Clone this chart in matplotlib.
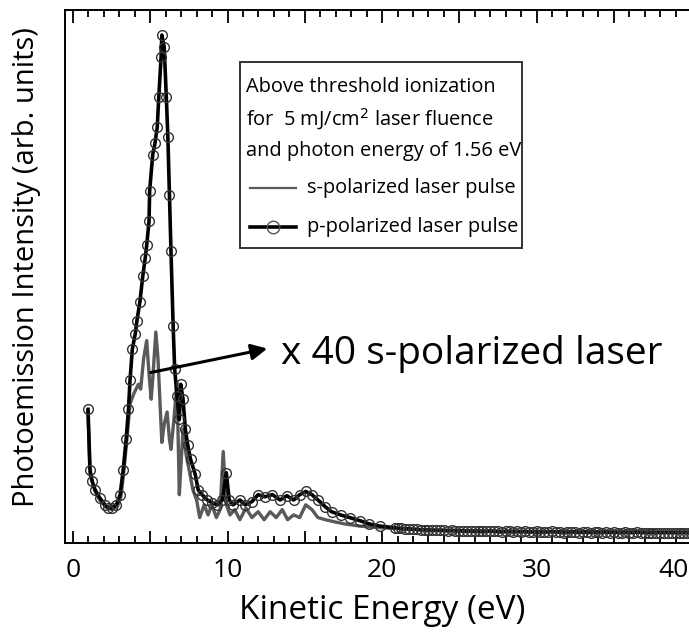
import matplotlib
matplotlib.use("Agg")
import matplotlib.pyplot as plt
import matplotlib.transforms as mtransforms
import numpy as np
from matplotlib.ticker import MultipleLocator, FuncFormatter
from matplotlib.lines import Line2D
from matplotlib.patches import Rectangle

plt.rcParams['font.family'] = ['Open Sans', 'DejaVu Sans']

# p-polarized laser pulse (black, open circles)
p_energy = [0.97, 1.10, 1.24, 1.43, 1.73, 2.07, 2.27, 2.51, 2.81, 3.05, 3.25, 3.44, 3.59,
            3.69, 3.84, 4.03, 4.13, 4.33, 4.52, 4.67, 4.77, 4.92, 4.96, 5.16, 5.31, 5.45,
            5.55, 5.70, 5.75, 5.90, 6.04, 6.14, 6.24, 6.34, 6.48, 6.58, 6.73, 6.88, 6.97,
            7.12, 7.27, 7.42, 7.61, 7.91, 8.10, 8.35, 8.69, 8.98, 9.33, 9.67, 9.92, 10.11,
            10.36, 10.80, 11.14, 11.58, 11.98, 12.42, 12.91, 13.40, 13.84, 14.28, 14.67,
            15.06, 15.46, 15.85, 16.34, 16.73, 17.32, 17.91, 18.59, 19.18, 19.87, 20.85]
p_signal = [24.5, 13.2, 11.0, 9.4, 7.9, 6.6, 6.0, 6.0, 6.6, 8.5, 13.2, 18.9, 24.5, 30.0,
            35.8, 38.7, 41.0, 44.7, 49.6, 52.8, 55.3, 59.8, 65.5, 72.3, 74.5, 77.4, 83.0,
            90.6, 94.7, 92.5, 83.0, 75.5, 64.7, 54.2, 40.2, 32.0, 27.0, 22.6, 29.2, 26.4,
            20.8, 17.9, 15.1, 12.3, 9.4, 8.5, 7.5, 7.0, 6.6, 7.5, 12.6, 7.5, 6.6, 7.5, 6.6,
            7.2, 8.5, 8.1, 8.5, 7.5, 8.3, 7.5, 8.5, 9.1, 8.5, 7.5, 6.2, 5.3, 4.7, 4.2, 3.6,
            3.0, 2.6, 2.3]
# high-energy tail of the p-polarized spectrum, sampled every 0.25 eV from 21 eV
tail_signal = [2.2, 2.2, 2.1, 2.1, 2.0, 2.0, 1.9, 1.9, 1.9, 1.8, 1.8, 1.8, 1.8, 1.7, 1.8,
               1.7, 1.7, 1.7, 1.6, 1.7, 1.6, 1.7, 1.6, 1.6, 1.7, 1.6, 1.6, 1.5, 1.6, 1.6,
               1.5, 1.6, 1.5, 1.6, 1.5, 1.5, 1.6, 1.5, 1.5, 1.5, 1.6, 1.5, 1.5, 1.4, 1.5,
               1.5, 1.5, 1.4, 1.5, 1.5, 1.4, 1.5, 1.5, 1.4, 1.5, 1.4, 1.5, 1.4, 1.4, 1.5,
               1.4, 1.4, 1.5, 1.4, 1.4, 1.4, 1.4, 1.4, 1.4, 1.4, 1.4, 1.4, 1.4, 1.4, 1.4,
               1.4, 1.4, 1.4, 1.4, 1.4, 1.4, 1.4, 1.4, 1.4]
tail_energy = 21.0 + 0.25 * np.arange(len(tail_signal))

# s-polarized laser pulse, multiplied by 40 (grey line)
s_energy = [0.97, 1.10, 1.43, 1.73, 2.12, 2.51, 2.86, 3.10, 3.30, 3.49, 3.69, 3.93, 4.23,
            4.38, 4.57, 4.77, 4.92, 5.06, 5.16, 5.36, 5.50, 5.65, 5.75, 5.90, 6.09, 6.24,
            6.34, 6.53, 6.73, 6.88, 6.97, 7.12, 7.32, 7.51, 7.76, 8.00, 8.20, 8.49, 8.74,
            8.98, 9.28, 9.52, 9.72, 9.92, 10.16, 10.46, 10.80, 11.19, 11.58, 11.98, 12.37,
            12.76, 13.15, 13.54, 13.89, 14.28, 14.67, 15.06, 15.46, 15.85, 16.34, 16.93,
            17.61, 18.59, 19.87, 21.14, 23.01, 25.95, 29.87, 34.77, 41.5]
s_signal = [24.2, 12.3, 9.1, 7.5, 6.2, 5.7, 6.2, 8.1, 13.2, 18.9, 25.5, 27.4, 29.2, 28.3,
            34.0, 37.4, 31.1, 26.4, 30.2, 39.0, 34.0, 24.5, 18.3, 21.7, 24.0, 18.9, 17.0,
            22.6, 29.6, 8.5, 13.2, 20.8, 16.0, 13.2, 9.4, 7.5, 4.2, 6.6, 4.7, 6.6, 4.2, 5.7,
            16.6, 6.6, 4.7, 5.7, 3.8, 6.0, 4.2, 5.3, 3.8, 5.3, 4.2, 5.7, 3.8, 4.7, 4.2, 6.6,
            5.7, 4.2, 3.8, 3.4, 3.0, 2.6, 2.3, 2.1, 1.9, 1.7, 1.6, 1.5, 1.5]

p_x = np.concatenate([p_energy, tail_energy])
p_y = np.concatenate([p_signal, tail_signal])

fig = plt.figure(figsize=(6.89, 6.34), dpi=100)
ax = fig.add_axes([0.0943, 0.1435, 0.95, 0.8407])

ax.plot(s_energy, s_signal, color="#5a5a5a", lw=2.4, zorder=2)
ax.plot(p_x, p_y, color="black", lw=2.6, marker="o", markersize=7,
        markerfacecolor="none", markeredgecolor="#333333", markeredgewidth=1.0, zorder=3)

ax.set_xlim(-0.52, 41.84)
ax.set_ylim(-0.57, 99.4)

# labels 0..30 from the formatter; "40" sits at the figure edge and is placed by hand
ax.xaxis.set_major_locator(MultipleLocator(5))
ax.xaxis.set_minor_locator(MultipleLocator(1))
ax.xaxis.set_major_formatter(FuncFormatter(
    lambda v, pos: f"{v:.0f}" if v % 10 == 0 and v < 35 else ""))
ax.tick_params(axis="x", which="both", direction="in", top=True, bottom=True,
               labelsize=19, width=1.3, pad=11)
ax.tick_params(axis="x", which="major", length=9)
ax.tick_params(axis="x", which="minor", length=5)
ax.set_yticks([])
for side in ["left", "bottom", "top"]:
    ax.spines[side].set_linewidth(1.4)
ax.spines["right"].set_visible(False)

blend = mtransforms.blended_transform_factory(ax.transData, ax.transAxes)
ax.text(39.85, -0.0287, "40", transform=blend, fontsize=19, ha="right", va="top")

ax.set_xlabel("Kinetic Energy (eV)", fontsize=24)
ax.xaxis.set_label_coords(0.484, -0.096)
ax.set_ylabel("Photoemission Intensity (arb. units)", fontsize=21)
ax.yaxis.set_label_coords(-0.037, 0.518)

# arrow and label for the scaled s-polarized curve
ax.annotate("", xy=(12.75, 36.0), xytext=(4.85, 31.3),
            arrowprops=dict(arrowstyle="-|>", color="black", lw=2.2, mutation_scale=24))
ax.text(13.45, 34.8, "x 40 s-polarized laser", fontsize=28, va="center", ha="left")

# legend box drawn by hand
tr = ax.transAxes
ax.add_patch(Rectangle((0.267, 0.553), 0.431, 0.349, transform=tr, fill=False,
                       edgecolor="#333333", lw=1.4, zorder=4))
info = ["Above threshold ionization",
        r"for  5 mJ/cm$^2$ laser fluence",
        "and photon energy of 1.56 eV"]
for i, line in enumerate(info):
    ax.text(0.276, 0.856 - 0.0605 * i, line, transform=tr, fontsize=14.4, va="center")
ax.add_line(Line2D([0.283, 0.353], [0.666, 0.666], transform=tr, color="#5a5a5a", lw=1.6))
ax.text(0.370, 0.666, "s-polarized laser pulse", transform=tr, fontsize=14.4, va="center")
ax.add_line(Line2D([0.283, 0.353], [0.593, 0.593], transform=tr, color="black", lw=2.6))
ax.add_line(Line2D([0.318], [0.593], transform=tr, marker="o", markersize=9,
                   markerfacecolor="none", markeredgecolor="#555555", markeredgewidth=1))
ax.text(0.370, 0.593, "p-polarized laser pulse", transform=tr, fontsize=14.4, va="center")

fig.savefig("out.png", dpi=100)
